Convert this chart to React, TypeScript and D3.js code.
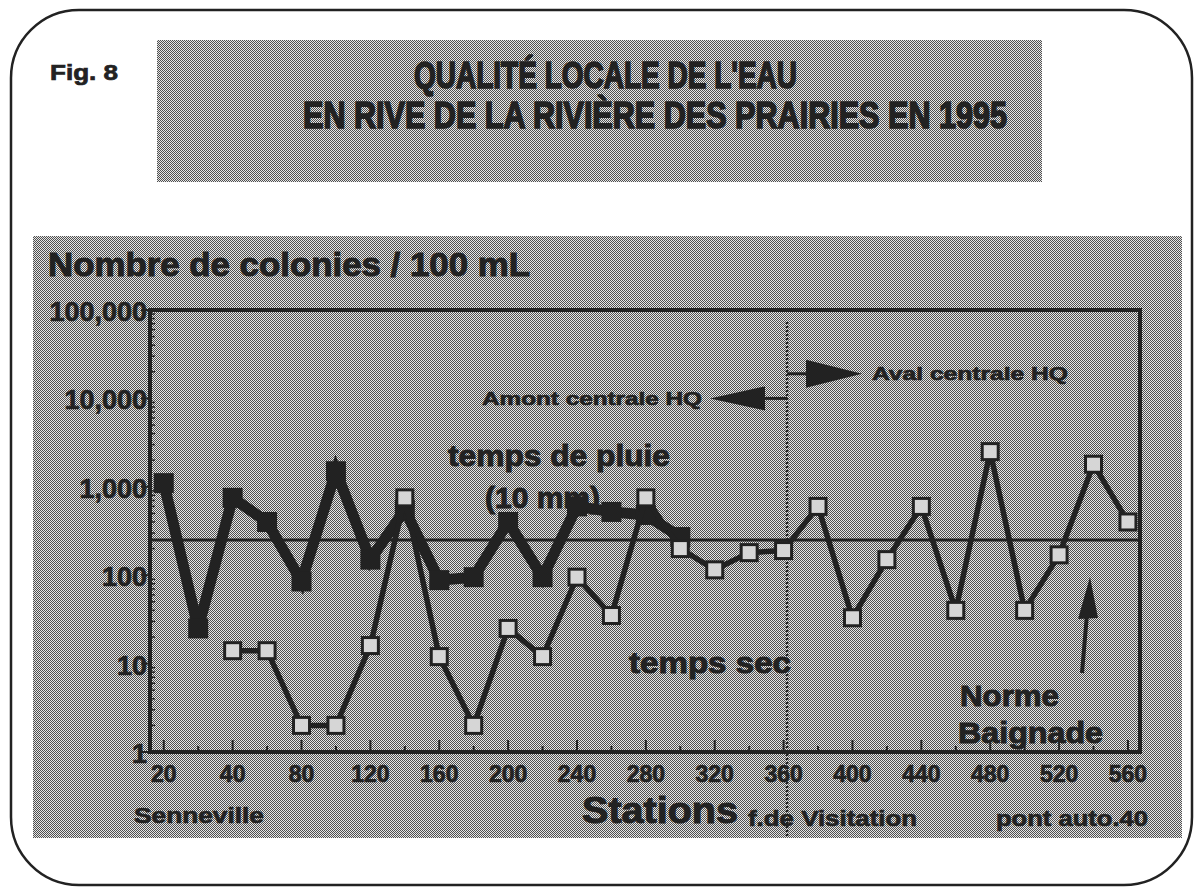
import * as d3 from "d3";

// station tick labels (every other station carries a label)
const tickLabels = ["20", "40", "80", "120", "160", "200", "240", "280", "320", "360", "400", "440", "480", "520", "560"];
const tickIndex = [0, 2, 4, 6, 8, 10, 12, 14, 16, 18, 20, 22, 24, 26, 28];
const stationCount = 29;

// colonies / 100 mL
const rainValues = [1100, 25, 750, 400, 85, 1500, 150, 550, 88, 95, 400, 95, 600, 520, 480, 270];
const dryValues = [
  null, null, 14, 14, 2, 2, 16, 750, 12, 2, 25, 12, 95, 35, 750, 200, 115, 180, 190, 600, 33, 150, 600, 40, 2500, 40,
  170, 1800, 400,
];

const yTicks = [1, 10, 100, 1000, 10000, 100000];
const normeBaignade = 250;
const centraleIndex = 18.1;

const INK = "#222";
const FONT = "'Liberation Sans', Arial, sans-serif";

const width = 1201;
const height = 890;

const x = d3.scaleLinear().domain([-0.4, 28.35]).range([150, 1140]);
const y = d3.scaleLog().domain([1, 100000]).range([752, 310]);

const fmt = d3.format(",");

type Pt = [number, number | null];

const line = d3
  .line<Pt>()
  .defined((d) => d[1] != null)
  .x((d) => x(d[0]))
  .y((d) => y(d[1] as number));

const rainPts: Pt[] = rainValues.map((v, i) => [i, v]);
const dryPts: Pt[] = dryValues.map((v, i) => [i, v]);

const minorY: number[] = [];
yTicks.slice(0, -1).forEach((t) => {
  for (let k = 2; k < 10; k++) minorY.push(t * k);
});

const stations = d3.range(stationCount);

function Label(props: {
  x: number;
  y: number;
  size: number;
  len?: number;
  anchor?: string;
  family?: string;
  heavy?: number;
  children: string;
}) {
  return (
    <text
      x={props.x}
      y={props.y}
      fontSize={props.size}
      fontFamily={props.family || FONT}
      fontWeight="bold"
      fill={INK}
      stroke={INK}
      strokeWidth={props.heavy ?? 0.7}
      textAnchor={props.anchor || "start"}
      dominantBaseline="central"
      textLength={props.len}
      lengthAdjust={props.len ? "spacingAndGlyphs" : undefined}
    >
      {props.children}
    </text>
  );
}

export default function App() {
  const xc = x(centraleIndex);
  const yAmont = y(10000);
  const yAval = y(19000);

  return (
    <div style={{ position: "absolute", left: 0, top: 0 }}>
      <svg width={width} height={height} style={{ display: "block", background: "#fff" }}>
        <defs>
          <pattern id="halftone" width="2" height="2" patternUnits="userSpaceOnUse">
            <rect width="2" height="2" fill="#e6e6e6" />
            <rect x="0" y="0" width="1" height="1" fill="#505050" />
            <rect x="1" y="1" width="1" height="1" fill="#505050" />
          </pattern>
        </defs>

        {/* outer rounded frame */}
        <rect x={11} y={10} width={1181} height={875} rx={68} ry={68} fill="none" stroke={INK} strokeWidth={2.5} />

        {/* title block */}
        <rect x={157} y={40} width={885} height={142} fill="url(#halftone)" />
        <Label x={50} y={72} size={22} len={68}>
          Fig. 8
        </Label>
        <Label x={414} y={75} size={36} len={383} heavy={1.6} family="'Liberation Sans Narrow', 'Liberation Sans', sans-serif">
          QUALITÉ LOCALE DE L'EAU
        </Label>
        <Label x={303} y={115} size={36} len={704} heavy={1.6} family="'Liberation Sans Narrow', 'Liberation Sans', sans-serif">
          EN  RIVE DE LA  RIVIÈRE DES PRAIRIES EN 1995
        </Label>

        {/* chart panel */}
        <rect x={33} y={236} width={1149} height={602} fill="url(#halftone)" />
        <Label x={48} y={264} size={33} len={482} heavy={1}>
          Nombre de colonies / 100 mL
        </Label>

        {/* norme baignade */}
        <line x1={x.range()[0]} x2={x.range()[1]} y1={y(normeBaignade)} y2={y(normeBaignade)} stroke={INK} strokeWidth={3} />

        {/* HQ plant divider */}
        <line x1={xc} x2={xc} y1={322} y2={836} stroke={INK} strokeWidth={2.5} strokeDasharray="2,2" />

        {/* plot frame */}
        <path
          d={`M${x.range()[0]},${y.range()[1]}H${x.range()[1]}V${y.range()[0]}H${x.range()[0]}Z`}
          fill="none"
          stroke={INK}
          strokeWidth={4}
        />

        {/* y axis ticks */}
        {yTicks.map((t) => (
          <g key={t}>
            <line x1={x.range()[0] - 9} x2={x.range()[0]} y1={y(t)} y2={y(t)} stroke={INK} strokeWidth={2} />
            <Label x={147} y={y(t) + 2} size={27} anchor="end">
              {fmt(t)}
            </Label>
          </g>
        ))}
        {minorY.map((t) => (
          <line key={t} x1={x.range()[0]} x2={x.range()[0] + 5} y1={y(t)} y2={y(t)} stroke={INK} strokeWidth={1.5} />
        ))}

        {/* x axis ticks */}
        {stations.map((i) => (
          <line
            key={i}
            x1={x(i)}
            x2={x(i)}
            y1={y.range()[0]}
            y2={y.range()[0] - (i % 2 === 0 ? 12 : 6)}
            stroke={INK}
            strokeWidth={2}
          />
        ))}
        {tickIndex.map((i, k) => (
          <Label key={i} x={x(i)} y={774} size={23} anchor="middle">
            {tickLabels[k]}
          </Label>
        ))}

        {/* rain series */}
        <path d={line(rainPts) || ""} fill="none" stroke={INK} strokeWidth={11} strokeLinejoin="miter" />
        {rainPts.map(([i, v]) => (
          <rect key={i} x={x(i) - 10} y={y(v as number) - 10} width={20} height={20} fill={INK} />
        ))}

        {/* dry series */}
        <path d={line(dryPts) || ""} fill="none" stroke={INK} strokeWidth={5.5} strokeLinejoin="miter" />
        {dryPts
          .filter((d) => d[1] != null)
          .map(([i, v]) => (
            <rect
              key={i}
              x={x(i) - 8}
              y={y(v as number) - 8}
              width={16}
              height={16}
              fill="#d6d6d6"
              stroke={INK}
              strokeWidth={3}
            />
          ))}

        {/* annotations */}
        <line x1={xc} x2={763} y1={yAmont} y2={yAmont} stroke={INK} strokeWidth={3} />
        <polygon points={`710,${yAmont} 765,${yAmont - 12} 765,${yAmont + 12}`} fill={INK} />
        <Label x={482} y={yAmont} size={19} len={220}>
          Amont centrale HQ
        </Label>

        <line x1={xc} x2={808} y1={yAval} y2={yAval} stroke={INK} strokeWidth={3} />
        <polygon points={`862,${yAval} 806,${yAval - 14} 806,${yAval + 14}`} fill={INK} />
        <Label x={872} y={yAval} size={19} len={196}>
          Aval centrale HQ
        </Label>

        <Label x={448} y={455} size={30} len={222} heavy={1}>
          temps de pluie
        </Label>
        <Label x={485} y={497} size={30} len={115} heavy={1}>
          (10 mm)
        </Label>
        <Label x={629} y={662} size={30} len={162} heavy={1}>
          temps sec
        </Label>

        <line x1={1082} x2={1087} y1={673} y2={614} stroke={INK} strokeWidth={4} />
        <polygon points="1090,577 1078,619 1098,618" fill={INK} />
        <Label x={960} y={695} size={30} len={99} heavy={1}>
          Norme
        </Label>
        <Label x={958} y={732} size={30} len={145} heavy={1}>
          Baignade
        </Label>

        <Label x={134} y={815} size={22} len={130}>
          Senneville
        </Label>
        <Label x={582} y={810} size={36} len={156} heavy={1}>
          Stations
        </Label>
        <Label x={748} y={818} size={22} len={169}>
          f.de Visitation
        </Label>
        <Label x={996} y={818} size={22} len={152}>
          pont auto.40
        </Label>
      </svg>
    </div>
  );
}
